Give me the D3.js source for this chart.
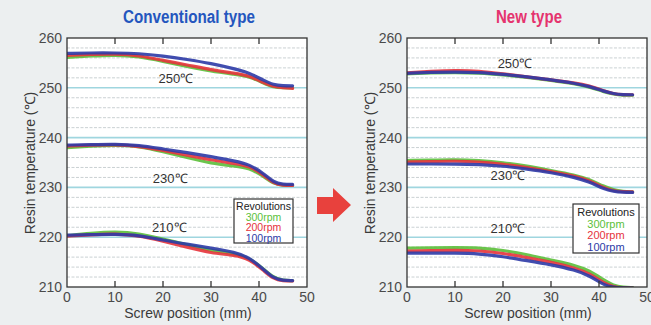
<!DOCTYPE html>
<html>
<head>
<meta charset='UTF-8'>
<style>
  body { margin: 0; background: #eceff0; }
  svg { display: block; background: #eceff0; }
  text { font-family: 'Liberation Sans', Arial, sans-serif; }
</style>
</head>
<body>
<script src='https://cdnjs.cloudflare.com/ajax/libs/d3/7.8.5/d3.min.js'></script>
<script>
// screw positions (mm) shared by every series
var positions = [0, 5, 10, 15, 20, 25, 30, 35, 38, 41, 43, 45, 47];
var revolutions = ['300rpm', '200rpm', '100rpm'];
var colors = ['#5bbf3a', '#e5333b', '#2c3aa6'];
var yTicks = [210, 220, 230, 240, 250, 260];
var xTicks = [0, 10, 20, 30, 40, 50];

// conventional type: [300rpm, 200rpm, 100rpm] for each set temperature
var conv250 = [
  [256.1, 256.4, 256.6, 256.3, 255.3, 254.3, 253.3, 252.7, 252.3, 250.9, 250.1, 250.0, 250.0],
  [256.5, 256.7, 256.8, 256.5, 255.5, 254.6, 253.6, 252.9, 252.4, 251.0, 250.2, 250.0, 249.9],
  [256.9, 257.0, 257.0, 256.9, 256.4, 255.7, 254.9, 253.8, 253.0, 251.5, 250.6, 250.4, 250.4]
];
var conv230 = [
  [238.0, 238.3, 238.5, 238.3, 237.2, 236.0, 234.8, 234.3, 233.9, 232.2, 230.7, 230.4, 230.4],
  [238.3, 238.5, 238.6, 238.3, 237.4, 236.5, 235.5, 234.8, 234.3, 232.5, 230.8, 230.4, 230.4],
  [238.5, 238.6, 238.7, 238.5, 237.7, 237.0, 236.2, 235.3, 234.6, 232.8, 231.0, 230.6, 230.6]
];
var conv210 = [
  [220.3, 220.8, 221.1, 220.8, 219.6, 218.5, 217.3, 216.7, 215.8, 213.6, 211.9, 211.3, 211.3],
  [220.2, 220.5, 220.7, 220.3, 219.2, 218.0, 216.8, 216.4, 215.6, 213.3, 211.6, 211.2, 211.2],
  [220.4, 220.5, 220.6, 220.4, 219.4, 218.6, 217.8, 217.0, 215.9, 213.5, 211.8, 211.3, 211.3]
];
// new type
var new250 = [
  [252.8, 253.0, 253.1, 253.0, 252.6, 252.1, 251.5, 250.8, 250.2, 249.2, 248.7, 248.5, 248.5],
  [253.0, 253.3, 253.5, 253.4, 252.8, 252.2, 251.6, 251.0, 250.4, 249.4, 248.8, 248.6, 248.6],
  [252.9, 253.1, 253.2, 253.1, 252.7, 252.2, 251.6, 250.9, 250.3, 249.3, 248.8, 248.6, 248.6]
];
var new230 = [
  [235.4, 235.5, 235.6, 235.4, 235.0, 234.3, 233.4, 232.5, 231.6, 230.2, 229.5, 229.2, 229.1],
  [235.1, 235.2, 235.3, 235.1, 234.7, 234.0, 233.2, 232.3, 231.4, 229.9, 229.3, 229.1, 229.1],
  [234.7, 234.7, 234.7, 234.6, 234.3, 233.7, 233.0, 232.0, 231.1, 229.7, 229.2, 229.0, 229.0]
];
var new210 = [
  [217.8, 217.9, 217.9, 217.9, 217.4, 216.5, 215.4, 214.4, 213.3, 211.4, 210.3, 209.9, 209.9],
  [217.2, 217.3, 217.4, 217.3, 216.8, 215.9, 215.0, 213.8, 212.7, 210.8, 210.0, 209.8, 209.8],
  [216.8, 216.8, 216.8, 216.7, 216.1, 215.3, 214.5, 213.4, 212.3, 210.4, 209.9, 209.8, 209.8]
];

// temperature labels: [mm, degC, text]
var convLabels = [[22.7, 252.0, '250℃'], [21.5, 231.8, '230℃'], [21.3, 222.0, '210℃']];
var newLabels = [[22.5, 255.0, '250℃'], [21.0, 232.5, '230℃'], [21.0, 221.8, '210℃']];

var W = 651, H = 325;
var svg = d3.select('body').append('svg').attr('width', W).attr('height', H);

function panel(opt) {
  var x = d3.scaleLinear().domain([0, 50]).range([opt.left, opt.left + 240]);
  var y = d3.scaleLinear().domain([210, 260]).range([287, 38]);
  var g = svg.append('g');

  g.append('rect')
    .attr('x', x(0)).attr('y', y(260))
    .attr('width', x(50) - x(0)).attr('height', y(210) - y(260))
    .attr('fill', '#fff');

  // grid every 2 degrees, stronger every 10
  var grid = d3.range(212, 260, 2);
  g.selectAll('.grid').data(grid).enter().append('line')
    .attr('x1', x(0)).attr('x2', x(50))
    .attr('y1', d => y(d)).attr('y2', d => y(d))
    .attr('stroke', d => d % 10 === 0 ? '#9fd6df' : '#bcc5c8')
    .attr('stroke-width', d => d % 10 === 0 ? 1.6 : 0.8)
    .attr('stroke-dasharray', d => d % 10 === 0 ? null : '3,1.5');

  var clipId = 'clip' + opt.left;
  svg.append('clipPath').attr('id', clipId).append('rect')
    .attr('x', x(0)).attr('y', y(260)).attr('width', x(50) - x(0)).attr('height', y(210) - y(260));

  var line = d3.line()
    .x((d, i) => x(positions[i]))
    .y(d => y(d))
    .curve(d3.curveBasis);

  var lg = g.append('g').attr('clip-path', 'url(#' + clipId + ')');
  opt.groups.forEach(function(group) {
    group.forEach(function(vals, k) {
      lg.append('path')
        .attr('d', line(vals))
        .attr('fill', 'none')
        .attr('stroke', colors[k])
        .attr('stroke-width', 3.2)
        .attr('stroke-opacity', 0.9)
        .attr('stroke-linecap', 'round');
    });
  });

  // frame and ticks
  g.append('rect')
    .attr('x', x(0)).attr('y', y(260))
    .attr('width', x(50) - x(0)).attr('height', y(210) - y(260))
    .attr('fill', 'none').attr('stroke', '#333').attr('stroke-width', 1.3);

  var inner = [10, 20, 30, 40];
  g.selectAll('.tb').data(inner).enter().append('line')
    .attr('x1', d => x(d)).attr('x2', d => x(d))
    .attr('y1', y(210)).attr('y2', y(210) - 6)
    .attr('stroke', '#333').attr('stroke-width', 1.3);
  g.selectAll('.tt').data(inner).enter().append('line')
    .attr('x1', d => x(d)).attr('x2', d => x(d))
    .attr('y1', y(260)).attr('y2', y(260) + 6)
    .attr('stroke', '#333').attr('stroke-width', 1.3);

  g.selectAll('.yl').data(yTicks).enter().append('text')
    .attr('x', x(0) - 5).attr('y', d => y(d) + 5)
    .attr('text-anchor', 'end').attr('font-size', 14).attr('fill', '#4a4a4a')
    .text(d => d);
  g.selectAll('.xl').data(xTicks).enter().append('text')
    .attr('x', d => x(d)).attr('y', 302)
    .attr('text-anchor', 'middle').attr('font-size', 14).attr('fill', '#4a4a4a')
    .text(d => d);

  g.append('text')
    .attr('x', (x(0) + x(50)) / 2 + 1).attr('y', 318)
    .attr('text-anchor', 'middle').attr('font-size', 14).attr('fill', '#3a3a3a')
    .text('Screw position (mm)');
  g.append('text')
    .attr('transform', 'translate(' + (x(0) - 32) + ',' + 163 + ') rotate(-90)')
    .attr('text-anchor', 'middle').attr('font-size', 14).attr('fill', '#3a3a3a')
    .text('Resin temperature (℃)');

  g.append('text')
    .attr('x', opt.titleX - opt.titleW / 2).attr('y', 23)
    .attr('textLength', opt.titleW).attr('lengthAdjust', 'spacingAndGlyphs')
    .attr('font-weight', 'bold').attr('font-size', 18)
    .attr('fill', opt.titleColor)
    .text(opt.title);

  g.selectAll('.tl').data(opt.labels).enter().append('text')
    .attr('x', d => x(d[0])).attr('y', d => y(d[1]) + 5)
    .attr('text-anchor', 'middle').attr('font-size', 13).attr('fill', '#333')
    .text(d => d[2]);

  // legend
  var L = opt.legend;
  var leg = g.append('g').attr('transform', 'translate(' + L.x + ',' + L.y + ')');
  leg.append('rect').attr('width', L.w).attr('height', L.h)
    .attr('fill', '#fff').attr('stroke', '#333').attr('stroke-width', 1.2);
  var rows = ['Revolutions'].concat(revolutions);
  var rowColors = ['#222'].concat(colors);
  leg.selectAll('text').data(rows).enter().append('text')
    .attr('x', L.w / 2).attr('y', (d, i) => L.top + i * L.step)
    .attr('text-anchor', 'middle').attr('font-size', L.fs)
    .attr('fill', (d, i) => rowColors[i])
    .text(d => d);
}

panel({
  left: 67, title: 'Conventional type', titleColor: '#2456be', titleX: 189, titleW: 132,
  groups: [conv250, conv230, conv210], labels: convLabels,
  legend: {x: 234, y: 199, w: 59, h: 44, top: 11, step: 10.5, fs: 10.5}
});
panel({
  left: 407, title: 'New type', titleColor: '#e5336e', titleX: 529, titleW: 66,
  groups: [new250, new230, new210], labels: newLabels,
  legend: {x: 573, y: 204, w: 66, h: 49, top: 12, step: 11.5, fs: 11}
});

// arrow between panels
svg.append('path')
  .attr('d', d3.line()([[317, 197], [333, 197], [333, 188], [351, 205], [333, 222], [333, 214], [317, 214]]) + 'Z')
  .attr('fill', '#e8413d');
</script>
</body>
</html>
